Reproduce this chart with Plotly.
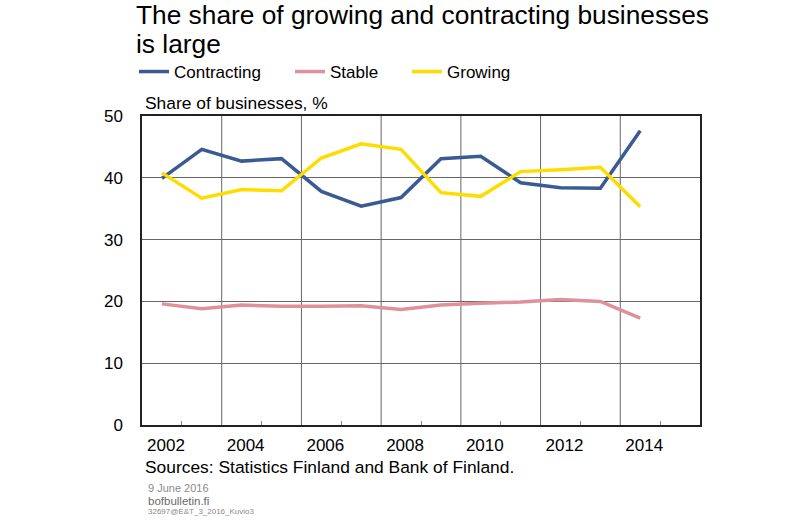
import plotly.graph_objects as go

years = list(range(2002, 2015))
contracting = [39.9, 44.6, 42.7, 43.1, 37.8, 35.4, 36.8, 43.1, 43.5, 39.2, 38.4, 38.3, 47.6]
stable = [19.6, 18.8, 19.4, 19.2, 19.2, 19.3, 18.7, 19.4, 19.7, 19.9, 20.3, 20.0, 17.3]
growing = [40.8, 36.7, 38.1, 37.9, 43.2, 45.5, 44.6, 37.6, 37.0, 41.0, 41.3, 41.7, 35.3]

series_names = ["Contracting", "Stable", "Growing"]
series_colors = ["#3A5B92", "#DF9199", "#FFDC00"]
x_tick_years = [2002, 2004, 2006, 2008, 2010, 2012, 2014]
y_ticks = [0, 10, 20, 30, 40, 50]

x_min, x_max = 2001.5, 2015.5
minor_tick_years = [y + 0.5 for y in range(2002, 2015, 2)]
grid_years = [y + 0.5 for y in range(2003, 2014, 2)]

# screenshot plot area: x 142..700, y 116..425 (body margin removed below)
PL, PT, PW, PH = 142, 116, 558, 309
W, H = 801, 523
L, T = PL, PT
R, B = W - L - PW, H - T - PH

def px_x(px):
    return (px - PL) / PW

def px_y(py):
    return (PT + PH - py) / PH

FONT = "Liberation Sans, Arial, sans-serif"

fig = go.Figure()
legend_ids = ["legend", "legend2", "legend3"]
for name, vals, col, lg in zip(series_names, [contracting, stable, growing], series_colors, legend_ids):
    fig.add_trace(go.Scatter(x=years, y=vals, mode="lines", name=name,
                             line=dict(color=col, width=3.5), legend=lg))

legend_text_px = [174, 330, 447]
legend_common = dict(orientation="h", xanchor="left", yanchor="middle", y=px_y(72),
                     font=dict(family=FONT, size=17, color="#000"),
                     bgcolor="rgba(0,0,0,0)", borderwidth=0, itemwidth=30)
layout_legends = {}
for lg, tx in zip(legend_ids, legend_text_px):
    layout_legends[lg] = dict(x=px_x(tx - 40), **legend_common)

shapes = [dict(type="line", xref="x", yref="y domain", x0=g, x1=g, y0=0, y1=1,
               line=dict(color="#666666", width=1), layer="below") for g in grid_years]

def note(text, x, y, size, color="#000"):
    return dict(text=text, x=px_x(x), y=px_y(y), xref="paper", yref="paper",
                xanchor="left", yanchor="middle", showarrow=False,
                font=dict(family=FONT, size=size, color=color))

annotations = [
    note("The share of growing and contracting businesses", 134, 15, 26.3),
    note("is large", 134, 44, 26.3),
    note("Share of businesses, %", 143, 103, 17.4),
    note("Sources: Statistics Finland and Bank of Finland.", 143, 467, 17.4),
    note("9 June 2016", 146, 488, 11, "#8A8A8A"),
    note("bofbulletin.fi", 146, 501, 11.5, "#6A6A6A"),
    note("32697@E&amp;T_3_2016_Kuvio3", 146, 512, 8, "#8A8A8A"),
]

fig.update_layout(
    width=W, height=H,
    margin=dict(l=L, r=R, t=T, b=B, pad=0),
    paper_bgcolor="white", plot_bgcolor="white",
    font=dict(family=FONT, size=17, color="#000"),
    showlegend=True,
    shapes=shapes,
    annotations=annotations,
    xaxis=dict(range=[x_min, x_max], tickmode="array", tickvals=x_tick_years,
               ticktext=[str(v) for v in x_tick_years], ticks="", showgrid=False,
               showline=True, linecolor="#222", linewidth=1.5, mirror=True,
               ticklabelstandoff=4, ticklabelshift=4, zeroline=False,
               tickfont=dict(family=FONT, size=17, color="#000"),
               minor=dict(tickmode="array", tickvals=minor_tick_years, ticks="inside",
                          ticklen=4, tickcolor="#888", showgrid=False)),
    yaxis=dict(range=[0, 50], tickmode="array", tickvals=y_ticks, ticks="",
               showgrid=True, gridcolor="#666666", gridwidth=1, zeroline=False,
               showline=True, linecolor="#222", linewidth=1.5, mirror=True,
               ticklabelstandoff=14,
               tickfont=dict(family=FONT, size=17, color="#000")),
    **layout_legends,
)

fig.write_html("out.html",
               config={"displayModeBar": False},
               post_script="document.body.style.margin='0px';document.body.style.overflow='hidden';")
